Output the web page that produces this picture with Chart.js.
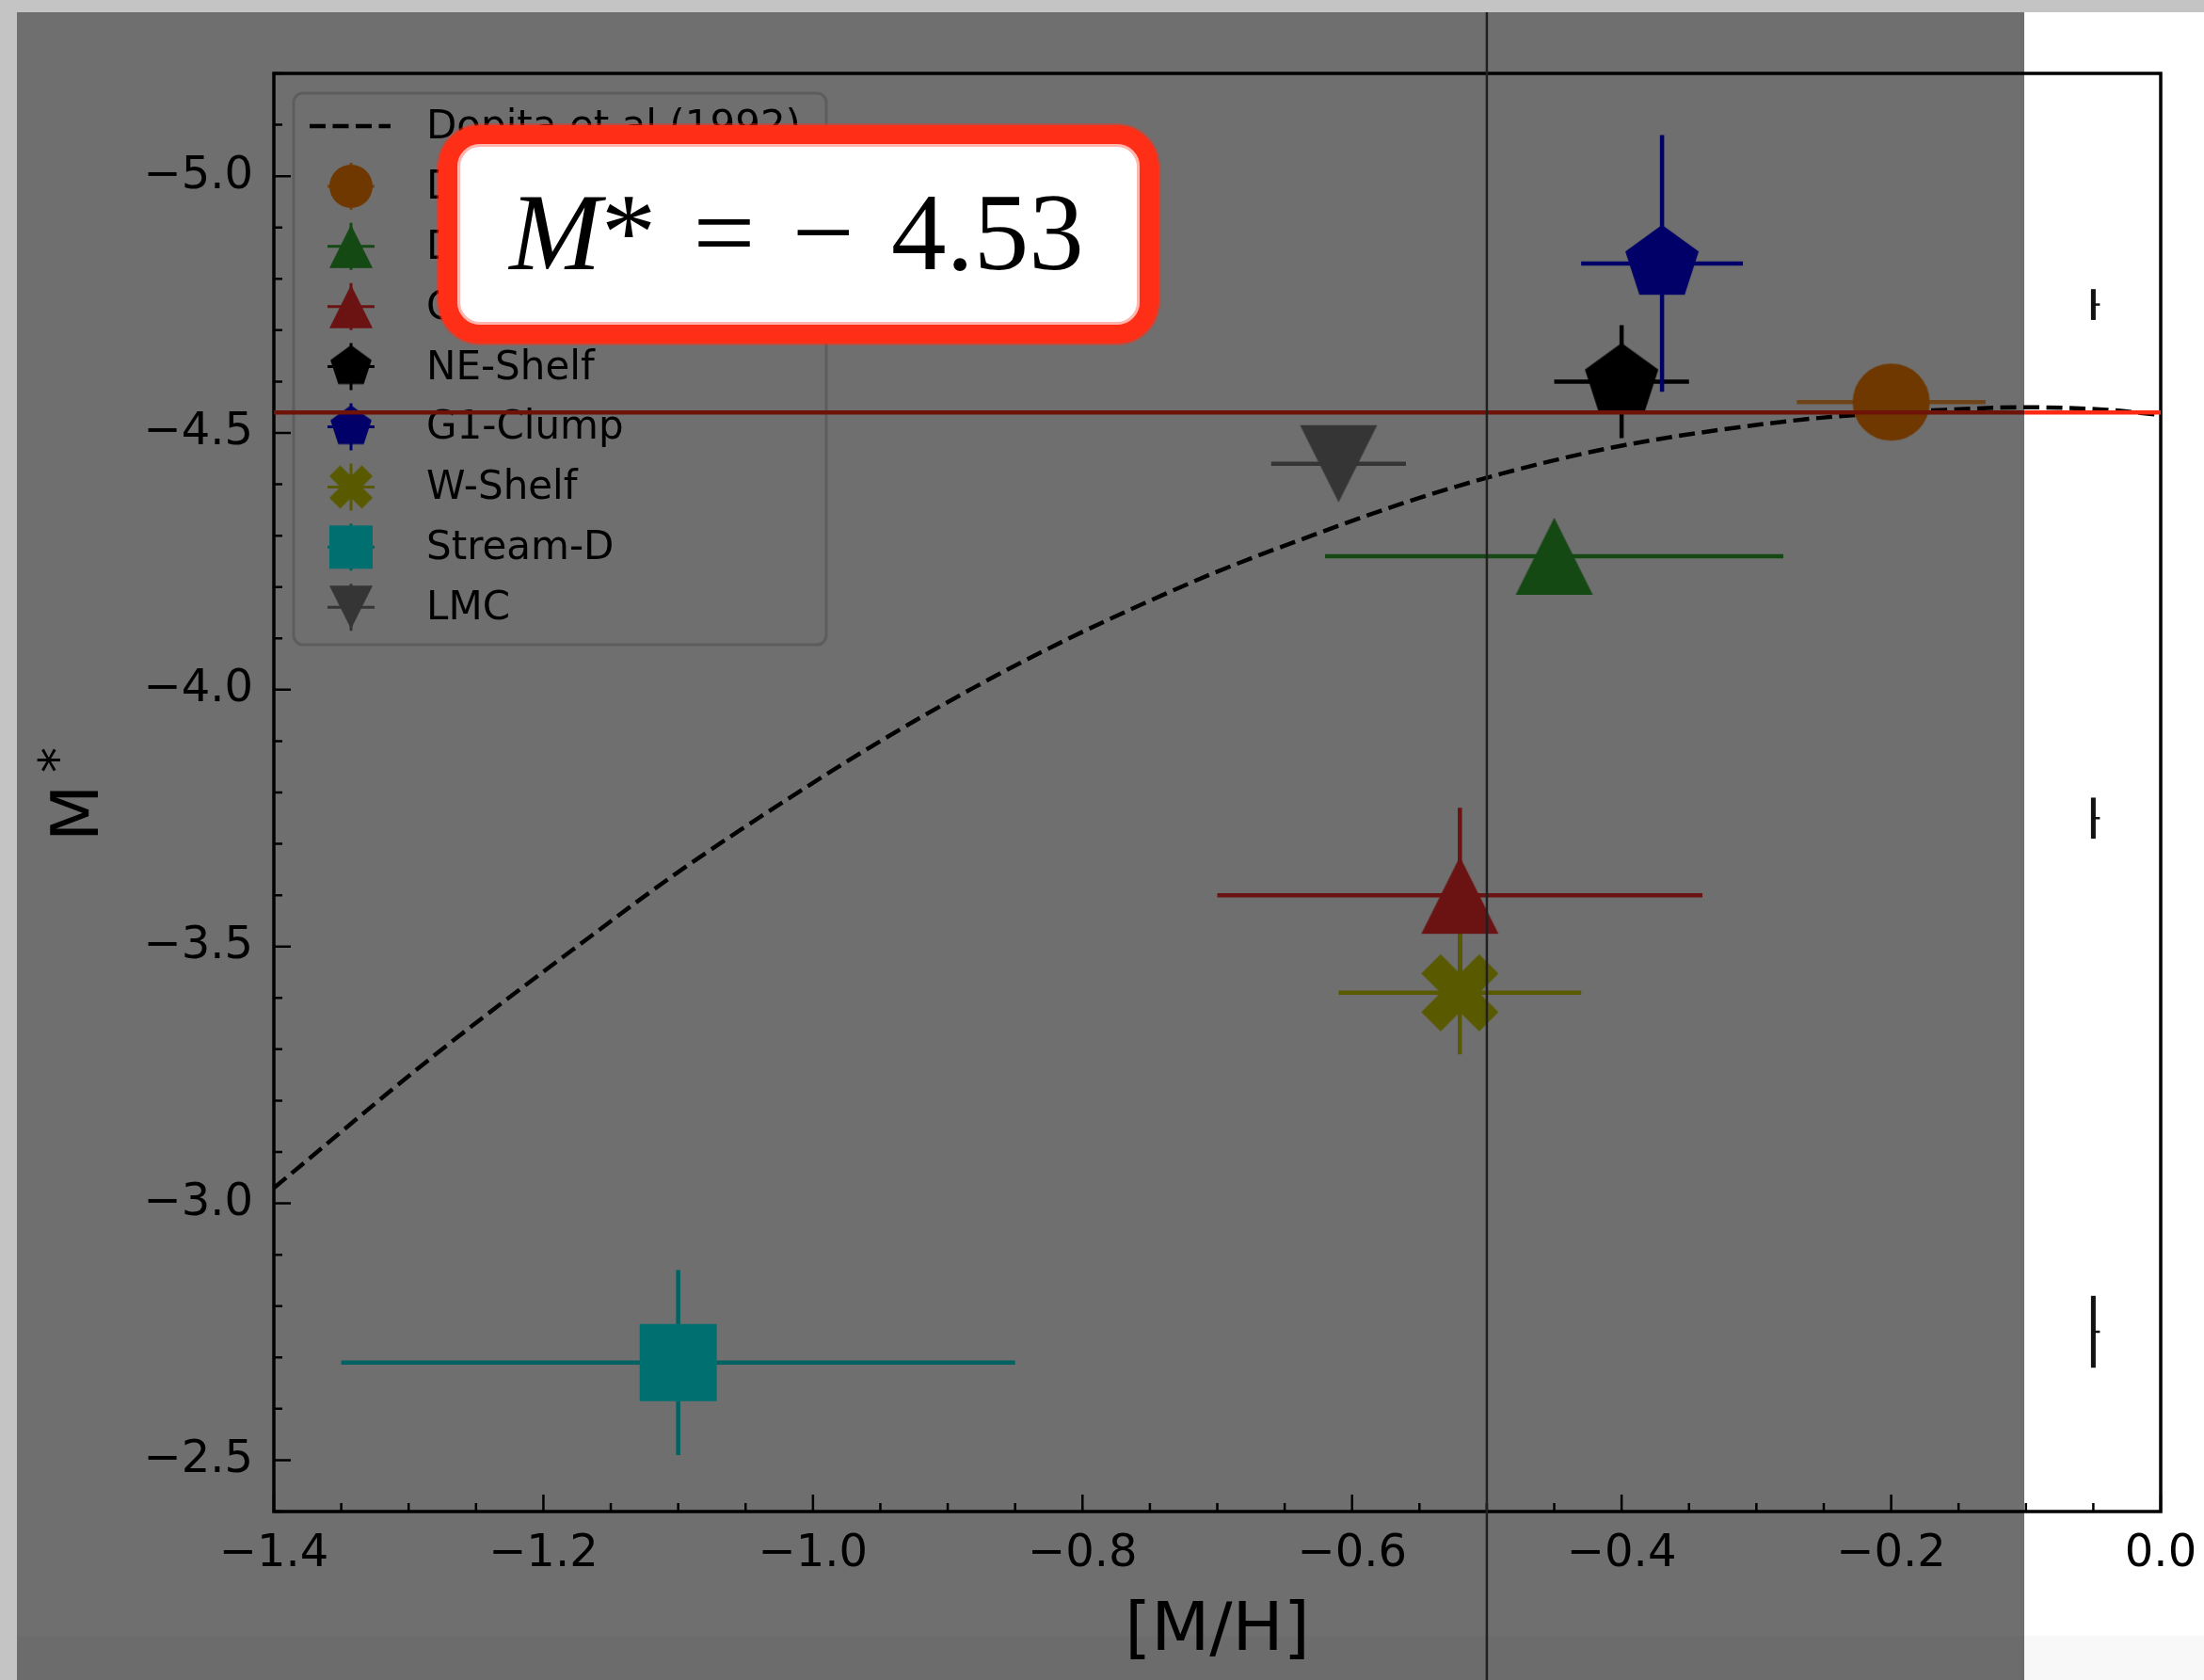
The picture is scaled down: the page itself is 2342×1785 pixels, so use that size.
<!DOCTYPE html>
<html lang="en">
<head>
<meta charset="UTF-8">
<title>PNLF cut-off M* against [M/H]</title>
<script src="https://cdn.jsdelivr.net/npm/chart.js"></script>
<style>
  html, body { margin: 0; padding: 0; background: #ffffff; }
  #wrap { position: relative; width: 2342px; height: 1785px; overflow: hidden; }
  #plot { position: absolute; left: 0; top: 0; }
  #callout {
    position: absolute; left: 466px; top: 133px;
    width: 765px; height: 232px; box-sizing: border-box;
    border: 20px solid #ff2e17; border-radius: 44px;
    background: #ffffff;
    box-shadow: 0 0 0 2px rgba(255, 46, 23, 0.45), inset 0 0 0 3px rgba(255, 46, 23, 0.35);
    display: flex; align-items: center; justify-content: center;
    font-family: "Liberation Serif", "Times New Roman", serif;
    font-size: 117px; line-height: 1; color: #000000;
    word-spacing: 10px; white-space: nowrap;
  }
  #callout .txt { position: relative; top: -3px; left: -2px; }
</style>
</head>
<body>
<div id="wrap">
  <canvas id="plot" width="2342" height="1785"></canvas>
  <div id="callout"><span class="txt"><i>M</i>* = &minus; <span id="mval">4.53</span></span></div>
</div>

<script>
// ---- values ----
const xTicks = [-1.4, -1.2, -1.0, -0.8, -0.6, -0.4, -0.2, 0.0];
const yTicks = [-5.0, -4.5, -4.0, -3.5, -3.0, -2.5];

// Dopita et al (1992) relation (dashed curve)
const dopitaMH = [-1.40, -1.28, -1.17, -1.10, -1.02, -0.95, -0.88, -0.81, -0.74, -0.70,
                  -0.63, -0.56, -0.49, -0.41, -0.33, -0.25, -0.16, -0.10, -0.04, 0.00];
const dopitaM  = [-3.03, -3.29, -3.51, -3.645, -3.785, -3.90, -4.005, -4.10, -4.185, -4.23,
                  -4.30, -4.365, -4.42, -4.47, -4.505, -4.53, -4.545, -4.55, -4.545, -4.535];

// fields: [M/H], M* and their errors
const fieldNames  = ['Disc', 'Disc-outer', 'C-Stream', 'NE-Shelf', 'G1-Clump', 'W-Shelf', 'Stream-D', 'LMC'];
const fieldMH     = [-0.20, -0.45, -0.52, -0.40, -0.37, -0.52, -1.10, -0.61];
const fieldM      = [-4.56, -4.26, -3.60, -4.60, -4.83, -3.41, -2.69, -4.44];
const fieldMHerr  = [0.07, 0.17, 0.18, 0.05, 0.06, 0.09, 0.25, 0.05];
const fieldMerr   = [0.02, 0.04, 0.17, 0.11, 0.25, 0.12, 0.18, 0.03];

// small typical error bars near the right edge
const typMH   = [-0.05, -0.05, -0.05];
const typM    = [-4.75, -3.75, -2.75];
const typMerr = [0.03, 0.04, 0.07];

const mStarLabel = '4.53';   // value in the box
const mStarLine = -4.54;     // red horizontal line
const cursorMH = -0.5;       // thin vertical line

// ---- styles ----
const fieldColors = ['#ff8000', '#2ea82e', '#f52b2b', '#000000', '#0000ee', '#cccc00', '#00ffff', '#7a7a7a'];
const errColors   = ['#ff9d3b', '#2ea82e', '#f52b2b', '#000000', '#0000ee', '#cccc00', '#00e0e0', '#7a7a7a'];
const fieldShapes = ['circle', 'triUp', 'triUp', 'pentagon', 'pentagon', 'xFilled', 'square', 'triDown'];
const plotFont = '"DejaVu Sans", Verdana, sans-serif';

document.getElementById('mval').textContent = mStarLabel;

// matplotlib-like marker shapes drawn into small canvases
function markerCanvas(shape, color, size) {
  const c = document.createElement('canvas');
  c.width = c.height = Math.ceil(size + 4);
  const g = c.getContext('2d');
  const r = size / 2;
  g.translate(c.width / 2, c.height / 2);
  g.fillStyle = color;
  g.beginPath();
  if (shape === 'circle') {
    g.arc(0, 0, r, 0, Math.PI * 2);
  } else if (shape === 'square') {
    g.rect(-r, -r, size, size);
  } else if (shape === 'triUp') {
    g.moveTo(0, -r); g.lineTo(r, r); g.lineTo(-r, r);
  } else if (shape === 'triDown') {
    g.moveTo(0, r); g.lineTo(r, -r); g.lineTo(-r, -r);
  } else if (shape === 'pentagon') {
    for (let k = 0; k < 5; k++) {
      const a = -Math.PI / 2 + k * 2 * Math.PI / 5;
      g.lineTo(r * Math.cos(a), r * Math.sin(a));
    }
  } else if (shape === 'xFilled') {
    const pts = [[0.25, 0], [0.5, 0.25], [0.75, 0], [1, 0.25], [0.75, 0.5], [1, 0.75],
                 [0.75, 1], [0.5, 0.75], [0.25, 1], [0, 0.75], [0.25, 0.5], [0, 0.25]];
    pts.forEach(p => g.lineTo((p[0] - 0.5) * size, (p[1] - 0.5) * size));
  }
  g.closePath();
  g.fill();
  return c;
}

const fieldMarkers  = fieldShapes.map((s, i) => markerCanvas(s, fieldColors[i], 82));
const legendMarkers = fieldShapes.map((s, i) => markerCanvas(s, fieldColors[i], 46));

const datasets = [{
  label: 'Dopita et al (1992)',
  data: dopitaMH.map((x, i) => ({ x: x, y: dopitaM[i] })),
  showLine: true,
  borderColor: '#000000',
  borderWidth: 4.5,
  borderDash: [17, 7.5],
  pointRadius: 0,
  cubicInterpolationMode: 'monotone',
  order: 20
}];
fieldNames.forEach((name, i) => {
  datasets.push({
    label: name,
    data: [{ x: fieldMH[i], y: fieldM[i] }],
    pointStyle: fieldMarkers[i],
    pointRadius: 41,
    order: 10 - i
  });
});

const decor = {
  id: 'decor',
  beforeDraw(chart) {
    const { ctx, width, height } = chart;
    ctx.save();
    ctx.fillStyle = '#ffffff';
    ctx.fillRect(0, 0, width, height);
    ctx.fillStyle = '#f8f8f8';
    ctx.fillRect(0, 1738, width, height - 1738);
    ctx.restore();
  },
  beforeDatasetsDraw(chart) {
    const { ctx, scales: { x, y } } = chart;
    ctx.save();
    ctx.lineCap = 'butt';
    // error bars of the fields
    fieldNames.forEach((n, i) => {
      const px = x.getPixelForValue(fieldMH[i]);
      const py = y.getPixelForValue(fieldM[i]);
      ctx.strokeStyle = errColors[i];
      ctx.lineWidth = 4.5;
      ctx.beginPath();
      ctx.moveTo(x.getPixelForValue(fieldMH[i] - fieldMHerr[i]), py);
      ctx.lineTo(x.getPixelForValue(fieldMH[i] + fieldMHerr[i]), py);
      ctx.moveTo(px, y.getPixelForValue(fieldM[i] - fieldMerr[i]));
      ctx.lineTo(px, y.getPixelForValue(fieldM[i] + fieldMerr[i]));
      ctx.stroke();
    });
    // typical error marks
    ctx.strokeStyle = '#111111';
    typMH.forEach((v, i) => {
      const px = x.getPixelForValue(v);
      const py = y.getPixelForValue(typM[i]);
      ctx.lineWidth = 5;
      ctx.beginPath();
      ctx.moveTo(px, y.getPixelForValue(typM[i] - typMerr[i]));
      ctx.lineTo(px, y.getPixelForValue(typM[i] + typMerr[i]));
      ctx.stroke();
      ctx.lineWidth = 2.5;
      ctx.beginPath();
      ctx.moveTo(px, py);
      ctx.lineTo(px + 7, py);
      ctx.stroke();
    });
    ctx.restore();
  },
  afterDatasetsDraw(chart) {
    const { ctx, chartArea: a, scales: { x, y } } = chart;
    ctx.save();

    // frame
    ctx.strokeStyle = '#000000';
    ctx.lineWidth = 3.5;
    ctx.strokeRect(a.left, a.top, a.right - a.left, a.bottom - a.top);

    // inward ticks, left and bottom only
    ctx.lineWidth = 2.5;
    ctx.beginPath();
    for (let v = -1.4; v <= 0.0001; v += 0.05) {
      const p = x.getPixelForValue(v);
      const major = xTicks.some(t => Math.abs(t - v) < 1e-6);
      ctx.moveTo(p, a.bottom);
      ctx.lineTo(p, a.bottom - (major ? 18 : 9));
    }
    for (let v = -5.2; v <= -2.4 + 0.0001; v += 0.1) {
      const p = y.getPixelForValue(v);
      const major = yTicks.some(t => Math.abs(t - v) < 1e-6);
      ctx.moveTo(a.left, p);
      ctx.lineTo(a.left + (major ? 18 : 9), p);
    }
    ctx.stroke();

    // y axis title M*
    ctx.save();
    ctx.translate(104, 887);
    ctx.rotate(-Math.PI / 2);
    ctx.fillStyle = '#000000';
    ctx.textBaseline = 'alphabetic';
    ctx.font = '70px ' + plotFont;
    ctx.fillText('M', -7, 0);
    ctx.font = '54px ' + plotFont;
    ctx.fillText('*', 66, -25);
    ctx.restore();

    // legend
    const lx = a.left + 21, ly = a.top + 21, lw = 566, lh = 586;
    ctx.beginPath();
    ctx.roundRect(lx, ly, lw, lh, 10);
    ctx.fillStyle = 'rgba(255,255,255,0.8)';
    ctx.fill();
    ctx.lineWidth = 3;
    ctx.strokeStyle = 'rgba(204,204,204,0.8)';
    ctx.stroke();
    const rowY = i => ly + 35 + i * 63.9;
    const mx = lx + 61;
    ctx.font = '42px ' + plotFont;
    ctx.textBaseline = 'middle';
    ctx.fillStyle = '#000000';
    // dashed line entry
    ctx.setLineDash([17, 7.5]);
    ctx.lineWidth = 4.5;
    ctx.strokeStyle = '#000000';
    ctx.beginPath();
    ctx.moveTo(lx + 17, rowY(0));
    ctx.lineTo(lx + 103, rowY(0));
    ctx.stroke();
    ctx.setLineDash([]);
    ctx.fillText(datasets[0].label, lx + 141, rowY(0) + 2);
    fieldNames.forEach((name, i) => {
      const cy = rowY(i + 1);
      ctx.strokeStyle = errColors[i];
      ctx.lineWidth = 3;
      ctx.beginPath();
      ctx.moveTo(mx - 25, cy); ctx.lineTo(mx + 25, cy);
      ctx.moveTo(mx, cy - 25); ctx.lineTo(mx, cy + 25);
      ctx.stroke();
      const m = legendMarkers[i];
      ctx.drawImage(m, mx - m.width / 2, cy - m.height / 2);
      ctx.fillStyle = '#000000';
      ctx.fillText(name, lx + 141, cy + 2);
    });

    // red reference line
    const ry = y.getPixelForValue(mStarLine);
    ctx.strokeStyle = '#ff2a14';
    ctx.lineWidth = 4.5;
    ctx.beginPath();
    ctx.moveTo(a.left, ry);
    ctx.lineTo(a.right, ry);
    ctx.stroke();
    ctx.restore();
  },
  afterDraw(chart) {
    const { ctx, width, height, scales: { x } } = chart;
    ctx.save();
    // dimming overlay on the left part
    ctx.fillStyle = 'rgba(0,0,0,0.565)';
    ctx.fillRect(18, 13, 2151 - 18, height - 13);
    // light grey frame strips
    ctx.fillStyle = '#c4c4c4';
    ctx.fillRect(0, 0, width, 13);
    ctx.fillRect(0, 0, 18, height);
    // vertical cursor line
    const cx = x.getPixelForValue(cursorMH);
    ctx.strokeStyle = '#202020';
    ctx.lineWidth = 2.5;
    ctx.beginPath();
    ctx.moveTo(cx, 13);
    ctx.lineTo(cx, height);
    ctx.stroke();
    ctx.restore();
  }
};

const fmt = v => (v < 0 ? '\u2212' : '') + Math.abs(v).toFixed(1);

new Chart(document.getElementById('plot'), {
  type: 'scatter',
  data: { datasets: datasets },
  options: {
    responsive: false,
    animation: false,
    devicePixelRatio: 1,
    events: [],
    layout: { padding: { left: 0, top: 78, right: 46, bottom: 0 } },
    plugins: { legend: { display: false }, tooltip: { enabled: false } },
    scales: {
      x: {
        type: 'linear',
        min: -1.4,
        max: 0.0,
        grid: { display: false, drawTicks: false },
        border: { display: false },
        afterBuildTicks: s => { s.ticks = xTicks.map(v => ({ value: v })); },
        afterFit: s => { s.height = 179; s.paddingLeft = 0; s.paddingRight = 0; },
        ticks: {
          autoSkip: false, maxRotation: 0, padding: 17,
          color: '#000000', font: { family: plotFont, size: 48 },
          callback: v => fmt(v)
        },
        title: {
          display: true, text: '[M/H]', color: '#000000',
          font: { family: plotFont, size: 72, lineHeight: 1.2 },
          padding: { top: 0, bottom: 8 }
        }
      },
      y: {
        type: 'linear',
        reverse: true,
        min: -5.2,
        max: -2.4,
        grid: { display: false, drawTicks: false },
        border: { display: false },
        afterBuildTicks: s => { s.ticks = yTicks.map(v => ({ value: v })); },
        afterFit: s => { s.width = 291; s.paddingTop = 0; s.paddingBottom = 0; },
        ticks: {
          padding: 22,
          color: '#000000', font: { family: plotFont, size: 48 },
          callback: v => fmt(v)
        }
      }
    }
  },
  plugins: [decor]
});
</script>
</body>
</html>
